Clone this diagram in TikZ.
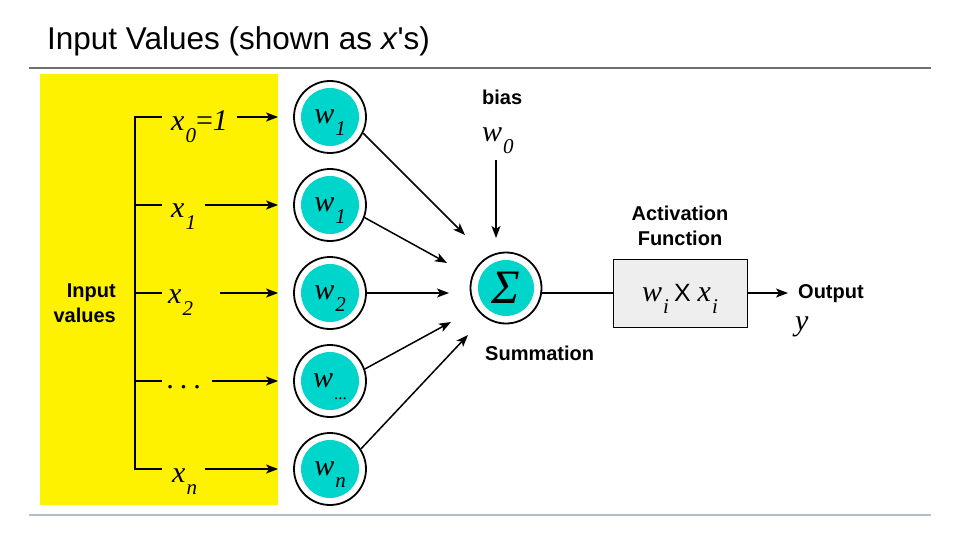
\documentclass[tikz,border=0pt]{standalone}
\usepackage{fontspec}
\setmainfont{Liberation Serif}
\setsansfont{Liberation Sans}
\usetikzlibrary{arrows.meta}
\definecolor{aqua}{HTML}{00D5CC}
\definecolor{boxgray}{HTML}{EEEEEE}
\definecolor{rulegray}{HTML}{6E6E6E}
\definecolor{rulelight}{HTML}{B4BCC6}
\newcommand{\vsub}[2]{\textit{#1}\kern1pt\raisebox{-12pt}[0pt][0pt]{\fontsize{21}{21}\selectfont\textit{#2}}}
\newcommand{\mathsz}{\fontsize{30}{30}\selectfont}
\newcommand{\labsz}{\fontsize{20}{25}\selectfont\sffamily\bfseries}
\begin{document}
\begin{tikzpicture}[x=1pt, y=-1pt,
    ring/.style={circle, draw, line width=1.8pt, fill=white, inner sep=0pt,
        path picture={\fill[aqua] (path picture bounding box.center) circle (#1);}},
    wnode/.style={ring=29pt, minimum size=72pt, font=\mathsz},
    lab/.style={inner sep=0pt, font=\labsz},
    var/.style={inner sep=0pt, font=\mathsz},
    arr/.style={line width=1.5pt, -{Stealth[length=12pt, width=9pt, inset=3pt]}}]
        \useasboundingbox (0,0) rectangle (960,540);
        \fill[yellow] (40,74) rectangle (278,505);
        \draw[rulegray, line width=1.5pt] (29,68) -- (931,68);
        \draw[rulelight, line width=1.5pt] (29,515) -- (931,515);
        \node[inner sep=0pt, font=\fontsize{31.5}{31.5}\selectfont\sffamily, anchor=base west] (title) at (47,50) {Input Values (shown as \textit{x}\textquotesingle s)};
        % bracket of the inputs
        \draw[line width=1.8pt] (135,117) -- (135,469);
        \foreach \y in {117,205,293,381,469}
        \draw[line width=1.8pt] (134,\y) -- (162,\y);
        \node[lab, align=right, anchor=east] (inlab) at (116,303) {Input\\values};
        \node[var, anchor=base west] (x0) at (171,131) {\vsub{x}{0}=\textit{1}};
        \node[var, anchor=base west] (x1) at (171,217) {\vsub{x}{1}};
        \node[var, anchor=base west] (x2) at (168,303) {\vsub{x}{2}};
        \node[var, anchor=base west] (x3) at (167,388) {\textit{.\hspace{6pt}.\hspace{6pt}.}};
        \node[var, anchor=base west] (xn) at (172,482) {\vsub{x}{n}};
        \coordinate (t0) at (237,117);
        \coordinate (t1) at (205,205);
        \coordinate (t2) at (220,293);
        \coordinate (t3) at (212,381);
        \coordinate (t4) at (205,469);
        % weights
        \node[wnode] (w0) at (330,117) {\vsub{w}{1}};
        \node[wnode] (w1) at (330,205) {\vsub{w}{1}};
        \node[wnode] (w2) at (330,293) {\vsub{w}{2}};
        \node[wnode] (w3) at (330,381) {\textit{w}\kern1pt\raisebox{-12pt}[0pt][0pt]{\fontsize{17}{17}\selectfont ...}};
        \node[wnode] (w4) at (330,469) {\vsub{w}{n}};
        \draw[arr, shorten >=15pt] (t0) -- (w0);
        \draw[arr, shorten >=15pt] (t1) -- (w1);
        \draw[arr, shorten >=15pt] (t2) -- (w2);
        \draw[arr, shorten >=15pt] (t3) -- (w3);
        \draw[arr, shorten >=15pt] (t4) -- (w4);
        % summation
        \node[ring=28pt, minimum size=71pt] (sig) at (506,288) {\fontsize{48}{48}\selectfont\textit{Σ}};
        \node[lab, anchor=base west] (sum) at (485,360) {Summation};
        \coordinate (s0) at (465,235);
        \coordinate (s1) at (447,263);
        \coordinate (s2) at (449,293);
        \coordinate (s3) at (451,322);
        \coordinate (s4) at (468,335);
        \draw[arr] (w0.-26) -- (s0);
        \draw[arr] (w1.-20) -- (s1);
        \draw[arr] (w2.east) -- (s2);
        \draw[arr] (w3.19) -- (s3);
        \draw[arr] (w4.33) -- (s4);
        % bias
        \node[lab, anchor=base west] (bias) at (482,105) {bias};
        \node[var, anchor=base west] (bw) at (482,142) {\vsub{w}{0}};
        \coordinate (b1) at (496,238);
        \draw[arr, shorten <=18pt] (bw.south -| b1) -- (b1);
        % activation
        \node[draw, line width=1pt, fill=boxgray, minimum width=134pt, minimum height=68pt, inner sep=0pt, font=\mathsz] (act) at (680,293)
            {\vsub{w}{i}\hspace{5pt}{\sffamily\upshape\fontsize{25}{25}\selectfont X}\hspace{7pt}\vsub{x}{i}};
        \node[lab, align=center] (actlab) at (680,226) {Activation\\Function};
        \draw[line width=1.5pt] (act.west) -- (act.west -| sig.east);
        \coordinate (out) at (788,293);
        \draw[arr] (act) -- (out);
        \node[lab, anchor=base west] (outlab) at (798,298) {Output};
        \node[var, anchor=base west] (yout) at (795,330) {\textit{y}};
\end{tikzpicture}
\end{document}
